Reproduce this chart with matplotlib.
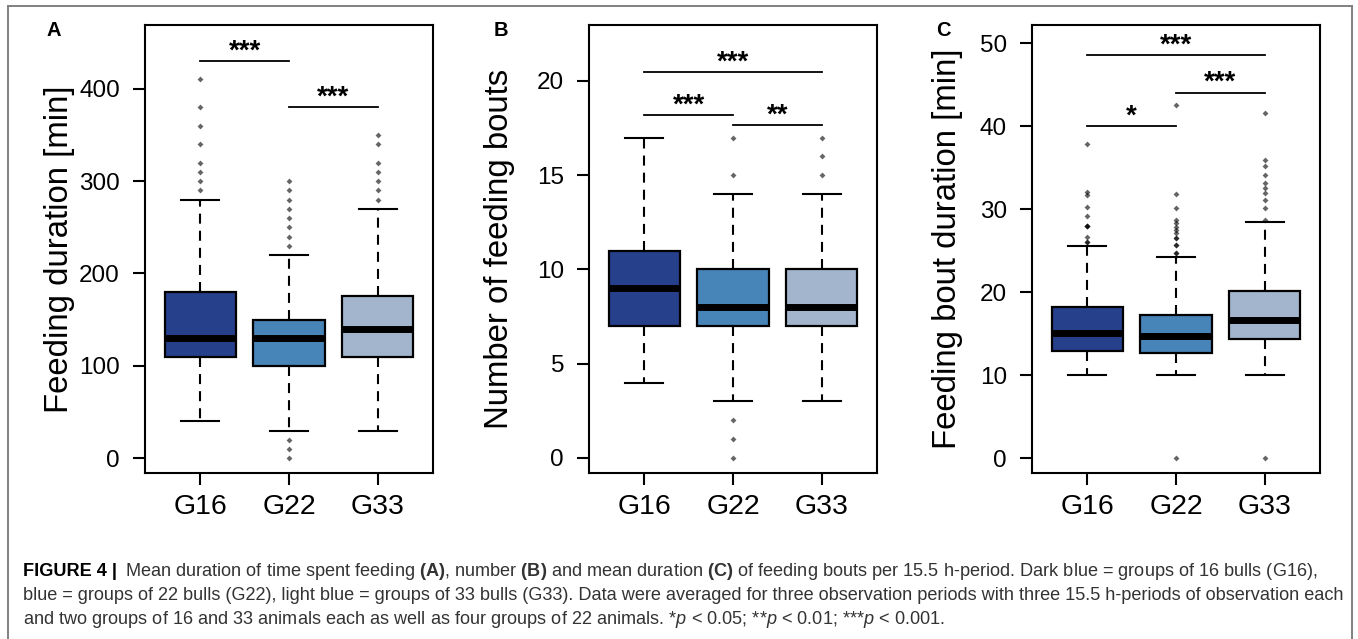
import matplotlib
matplotlib.use("Agg")
import matplotlib.pyplot as plt
from matplotlib.lines import Line2D

plt.rcParams['font.family'] = ['Liberation Sans', 'DejaVu Sans']
plt.rcParams['mathtext.fontset'] = 'custom'
plt.rcParams['mathtext.rm'] = 'Liberation Sans'
plt.rcParams['mathtext.it'] = 'Liberation Sans:italic'
plt.rcParams['mathtext.bf'] = 'Liberation Sans:bold'

groups = ["G16", "G22", "G33"]
colors = ["#26408c", "#4784b8", "#a3b5cd"]

# (A) feeding duration [min]
dur_lo = [40, 30, 30]
dur_q1 = [110, 100, 110]
dur_med = [130, 130, 140]
dur_q3 = [180, 150, 176]
dur_hi = [280, 220, 270]
dur_fliers = [
    [290, 300, 310, 320, 340, 360, 380, 410],
    [0, 10, 20, 230, 240, 250, 260, 270, 280, 290, 300],
    [280, 290, 300, 310, 320, 340, 350],
]
dur_sig = [(0, 1, 430, "***"), (1, 2, 380, "***")]

# (B) number of feeding bouts
bouts_lo = [4, 3, 3]
bouts_q1 = [7, 7, 7]
bouts_med = [9, 8, 8]
bouts_q3 = [11, 10, 10]
bouts_hi = [17, 14, 14]
bouts_fliers = [
    [],
    [0, 1, 2, 15, 17],
    [15, 16, 17],
]
bouts_sig = [(0, 2, 20.45, "***"), (0, 1, 18.2, "***"), (1, 2, 17.65, "**")]

# (C) feeding bout duration [min]
bdur_lo = [10, 10, 10]
bdur_q1 = [12.9, 12.7, 14.3]
bdur_med = [15.1, 14.7, 16.7]
bdur_q3 = [18.2, 17.3, 20.1]
bdur_hi = [25.6, 24.2, 28.5]
bdur_fliers = [
    [26.0, 26.0, 26.7, 28.0, 28.0, 28.0, 29.2, 30.3, 31.7, 32.1, 37.8],
    [0, 24.7, 24.7, 25.7, 25.7, 26.5, 26.5, 27.1, 27.5, 27.9, 28.3, 28.7,
     30.2, 31.8, 42.6],
    [0, 28.7, 30.1, 31.1, 31.9, 32.5, 33.2, 34.1, 35.2, 35.9, 41.6],
]
bdur_sig = [(0, 2, 48.6, "***"), (1, 2, 44.05, "***"), (0, 1, 40.0, "*")]

W, H = 1358, 639
fig = plt.figure(figsize=(W / 100, H / 100), dpi=100)


def px(x, y):
    # pixel position (from top-left) -> figure fraction
    return x / W, 1 - y / H


def panel(left, letter, letter_x, ylabel, label_x, lo, q1, med, q3, hi,
          fliers, sig, ylim, yticks):
    ax = fig.add_axes([left / W, 1 - 473 / H, 288 / W, 448 / H])
    stats = []
    for i in range(3):
        stats.append(dict(whislo=lo[i], q1=q1[i], med=med[i], q3=q3[i],
                          whishi=hi[i], fliers=fliers[i], label=groups[i]))
    res = ax.bxp(stats, positions=[1, 2, 3], widths=0.8, capwidths=0.42,
                 patch_artist=True,
                 boxprops=dict(edgecolor='black', linewidth=1.6),
                 whiskerprops=dict(color='black', linewidth=1.5,
                                   linestyle=(0, (4.8, 3.4))),
                 capprops=dict(color='black', linewidth=1.5),
                 medianprops=dict(color='black', linewidth=5,
                                  solid_capstyle='butt'),
                 flierprops=dict(marker='D', markersize=3,
                                 markerfacecolor='black',
                                 markeredgecolor='none', alpha=0.6,
                                 linestyle='none'))
    for box, c in zip(res['boxes'], colors):
        box.set_facecolor(c)

    for i, j, y, s in sig:
        ax.plot([i + 1, j + 1], [y, y], color='black', lw=1.3)
        ax.annotate(s, xy=((i + j) / 2 + 1, y), xytext=(0, 1.8),
                    textcoords='offset points', ha='center', va='baseline',
                    fontsize=20, fontweight='bold')

    ax.set_xlim(0.38, 3.62)
    ax.set_ylim(*ylim)
    ax.set_yticks(yticks)
    ax.set_xticks([1, 2, 3])
    ax.set_xticklabels(groups)
    ax.tick_params(axis='both', direction='out', length=8.6, width=1.5)
    ax.tick_params(axis='y', labelsize=17.5, pad=9.4)
    ax.tick_params(axis='x', labelsize=20.5, pad=6.2)
    for sp in ax.spines.values():
        sp.set_linewidth(1.5)

    fig.text(*px(letter_x, 31), letter, fontsize=14.5, fontweight='bold',
             ha='center', va='center')
    fig.text(*px(label_x, 249), ylabel, fontsize=23.7, rotation=90,
             rotation_mode='anchor', ha='center', va='baseline')
    return ax


panel(145, "A", 54, "Feeding duration [min]", 68.3,
      dur_lo, dur_q1, dur_med, dur_q3, dur_hi, dur_fliers, dur_sig,
      (-16, 469), [0, 100, 200, 300, 400])
panel(589, "B", 501, "Number of feeding bouts", 508.3,
      bouts_lo, bouts_q1, bouts_med, bouts_q3, bouts_hi, bouts_fliers,
      bouts_sig, (-0.8, 22.97), [0, 5, 10, 15, 20])
panel(1032, "C", 943, "Feeding bout duration [min]", 956,
      bdur_lo, bdur_q1, bdur_med, bdur_q3, bdur_hi, bdur_fliers, bdur_sig,
      (-1.8, 52.2), [0, 10, 20, 30, 40, 50])

# frame around the figure (open at the bottom)
frame_kw = dict(color='#808080', lw=1.4, transform=fig.transFigure)
fig.add_artist(Line2D([7.5 / W, 7.5 / W], [0, 1 - 6 / H], **frame_kw))
fig.add_artist(Line2D([1352 / W, 1352 / W], [0, 1 - 6 / H], **frame_kw))
fig.add_artist(Line2D([7.5 / W, 1352 / W], [1 - 6 / H, 1 - 6 / H], **frame_kw))

# caption
cap_size = 13.1
cap_kw = dict(fontsize=cap_size, color='#333333', va='baseline', ha='left')
fig.text(*px(23, 576), "FIGURE 4 |", fontsize=cap_size, fontweight='bold',
         color='black', va='baseline', ha='left')
fig.text(*px(125, 576),
         r"Mean duration of time spent feeding $\mathbf{(A)}$, number "
         r"$\mathbf{(B)}$ and mean duration $\mathbf{(C)}$ of feeding bouts "
         r"per 15.5 h-period. Dark blue = groups of 16 bulls (G16),",
         **cap_kw)
fig.text(*px(23, 600),
         "blue = groups of 22 bulls (G22), light blue = groups of 33 bulls "
         "(G33). Data were averaged for three observation periods with three "
         "15.5 h-periods of observation each", **cap_kw)
fig.text(*px(23, 624),
         r"and two groups of 16 and 33 animals each as well as four groups of "
         r"22 animals. *$\mathit{p}$ < 0.05; **$\mathit{p}$ < 0.01; "
         r"***$\mathit{p}$ < 0.001.", **cap_kw)

fig.savefig("out.png", dpi=100)
